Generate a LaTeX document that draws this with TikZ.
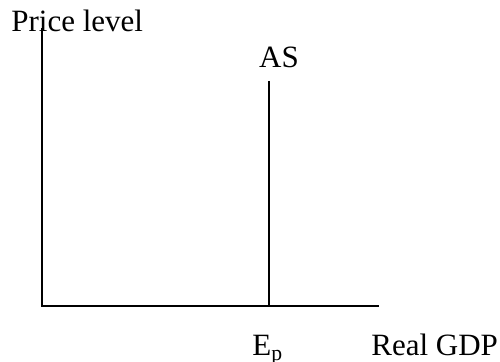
\documentclass[tikz,border=0pt]{standalone}
\usepackage{fontspec}
\setmainfont{Liberation Serif}
\usetikzlibrary{positioning}
\tikzset{
    axislabel/.style={inner sep=0pt, font=\fontsize{15.5}{18}\selectfont},
    axis/.style={line width=1pt},
    curve/.style={line width=1pt}
}
\begin{document}
\begin{tikzpicture}[x=0.5pt, y=-0.5pt]
    \useasboundingbox (0,0) rectangle (500,362);
    \coordinate (origin) at (42,306);
    \coordinate (ytop) at (42,28);
    \coordinate (xend) at (379,306);
    \coordinate (asbot) at (269,306);
    \coordinate (astop) at (269,81);

    \node (ylab) [axislabel, anchor=base west] at (11,31.5) {Price level};
    \node (aslab) [axislabel, anchor=base] at (279,68) {AS};
    \node (ep) [axislabel, anchor=base west] at (252,356) {E\textsubscript{p}};
    \node (xlab) [axislabel, anchor=base west] at (371,356) {Real GDP};

    \draw [axis] (ytop) -- (origin) -- (xend);
    \draw [curve] (astop) -- (asbot);
\end{tikzpicture}
\end{document}
